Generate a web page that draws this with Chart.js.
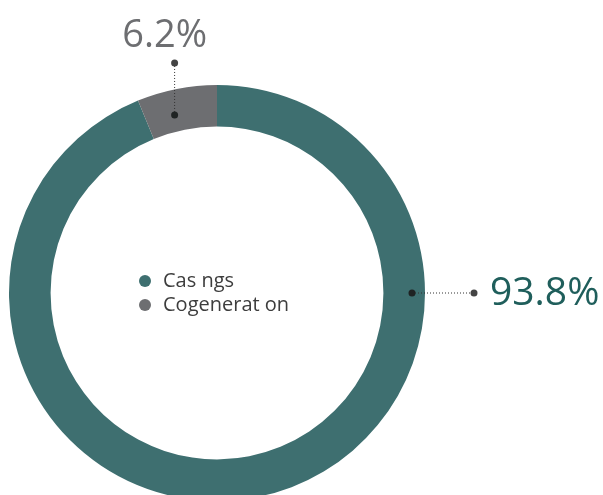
<!DOCTYPE html>
<html>
<head>
<meta charset="utf-8">
<script src="https://cdn.jsdelivr.net/npm/chart.js@4.4.1/dist/chart.umd.min.js"></script>
<style>
    html, body { margin: 0; padding: 0; background: #fff; overflow: hidden; }
    .chart-wrap { width: 603px; height: 495px; overflow: hidden; }
</style>
</head>
<body>
<div class="chart-wrap">
    <canvas id="shareChart" width="603" height="530"></canvas>
</div>
<script>
const categories = ['Cas ngs', 'Cogenerat on'];
const shares = [93.8, 6.2];
const shareLabels = ['93.8%', '6.2%'];
const sliceColors = ['#3e6f70', '#6d6e71'];
const labelColors = ['#1f5e5b', '#6d6e71'];

// where each value callout leaves the ring and where its text sits
// angle: fixed canvas angle, or null to use a fraction along the slice
const callouts = [
    { angle: 0, along: 0, radius: 195, dx: 62, dy: 0, textAlign: 'left', textDx: 16, textDy: 1, fontSize: 39 },
    { angle: null, along: 0.4, radius: 183, dx: 0, dy: -52, textAlign: 'center', textDx: -10, textDy: -16, fontSize: 38 }
];

const calloutPlugin = {
    id: 'callouts',
    afterDraw(chart) {
        let ctx = chart.ctx;
        let meta = chart.getDatasetMeta(0);
        meta.data.forEach((arc, i) => {
            let c = callouts[i];
            let angle = c.angle;
            if (angle === null) {
                angle = arc.startAngle + (arc.endAngle - arc.startAngle) * c.along;
            }
            let x1 = arc.x + Math.cos(angle) * c.radius;
            let y1 = arc.y + Math.sin(angle) * c.radius;
            let x2 = x1 + c.dx;
            let y2 = y1 + c.dy;

            ctx.save();
            ctx.strokeStyle = '#333';
            ctx.lineWidth = 1;
            ctx.setLineDash([1, 2]);
            ctx.beginPath();
            ctx.moveTo(x1, y1);
            ctx.lineTo(x2, y2);
            ctx.stroke();
            ctx.setLineDash([]);

            ctx.fillStyle = '#1f2323';
            ctx.beginPath();
            ctx.arc(x1, y1, 3.5, 0, Math.PI * 2);
            ctx.fill();
            ctx.fillStyle = '#444';
            ctx.beginPath();
            ctx.arc(x2, y2, 3.5, 0, Math.PI * 2);
            ctx.fill();

            ctx.font = c.fontSize + 'px "Open Sans"';
            ctx.fillStyle = labelColors[i];
            ctx.textAlign = c.textAlign;
            ctx.textBaseline = c.textAlign === 'left' ? 'middle' : 'alphabetic';
            ctx.fillText(shareLabels[i], x2 + c.textDx, y2 + c.textDy);
            ctx.restore();
        });

        // legend in the hole of the ring
        let cx = meta.data[0].x;
        let cy = meta.data[0].y;
        ctx.save();
        ctx.font = '20px "Open Sans"';
        ctx.textAlign = 'left';
        ctx.textBaseline = 'middle';
        categories.forEach((name, i) => {
            let y = cy - 12 + i * 24;
            ctx.fillStyle = sliceColors[i];
            ctx.beginPath();
            ctx.arc(cx - 72, y, 6, 0, Math.PI * 2);
            ctx.fill();
            ctx.fillStyle = '#3d3d3d';
            ctx.fillText(name, cx - 54, y);
        });
        ctx.restore();
    }
};

new Chart(document.getElementById('shareChart'), {
    type: 'doughnut',
    data: {
        labels: categories,
        datasets: [{
            data: shares,
            backgroundColor: sliceColors,
            borderWidth: 0
        }]
    },
    options: {
        responsive: false,
        animation: false,
        cutout: '80%',
        layout: {
            padding: { left: 9, right: 178, top: 85, bottom: 29 }
        },
        plugins: {
            legend: { display: false },
            tooltip: { enabled: false }
        }
    },
    plugins: [calloutPlugin]
});
</script>
</body>
</html>
